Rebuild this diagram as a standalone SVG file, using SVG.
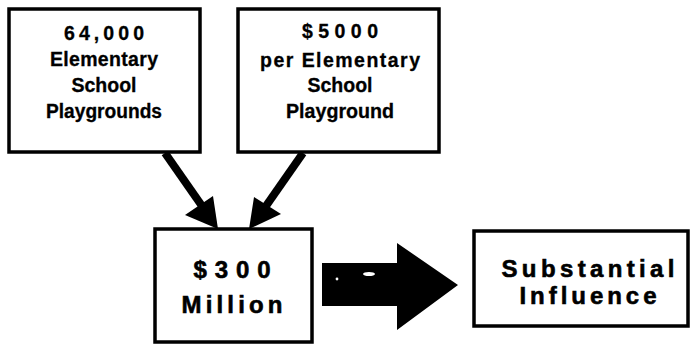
<svg xmlns="http://www.w3.org/2000/svg" width="695" height="347" viewBox="0 0 695 347">
  <style>
    .box { fill: #ffffff; stroke: #000000; stroke-width: 3.5; }
    .lbl { font-family: "Liberation Sans", Arial, Helvetica, sans-serif; font-weight: bold; fill: #000000; text-anchor: middle; stroke: #000000; }
    .sm { font-size: 19.5px; stroke-width: 0.3; }
    .lg { font-size: 24px; stroke-width: 0.6; }
    .link { stroke: #000000; stroke-width: 8; fill: none; }
    .head { fill: #000000; }
  </style>
  <rect width="695" height="347" fill="#ffffff"/>

  <g id="connectors">
    <!-- playground count into total -->
    <line class="link" x1="165" y1="153" x2="202" y2="206"/>
    <polygon class="head" points="185,215 213,196 218,229"/>
    <!-- cost per playground into total -->
    <line class="link" x1="303" y1="153" x2="266" y2="206"/>
    <polygon class="head" points="254,197 281,214 249,229"/>
    <!-- block arrow from total to influence -->
    <polygon class="head" points="322,263 397,263 397,243 458,285 397,330 397,306 322,306"/>
    <circle cx="337" cy="279" r="1.4" fill="#ffffff"/>
    <ellipse cx="369" cy="274" rx="6" ry="2" fill="#ffffff"/>
  </g>

  <g id="node-count">
    <rect class="box" x="9" y="9" width="191" height="143"/>
    <text class="lbl sm" x="104" y="40" textLength="80" lengthAdjust="spacing">64,000</text>
    <text class="lbl sm" x="104" y="66" textLength="108" lengthAdjust="spacing">Elementary</text>
    <text class="lbl sm" x="104" y="92">School</text>
    <text class="lbl sm" x="104" y="118" textLength="116" lengthAdjust="spacingAndGlyphs">Playgrounds</text>
  </g>

  <g id="node-cost">
    <rect class="box" x="238" y="9" width="201" height="143"/>
    <text class="lbl sm" x="340" y="38" textLength="76" lengthAdjust="spacing">$5000</text>
    <text class="lbl sm" x="340" y="67" textLength="160" lengthAdjust="spacing">per  Elementary</text>
    <text class="lbl sm" x="340" y="92">School</text>
    <text class="lbl sm" x="340" y="118" textLength="108" lengthAdjust="spacingAndGlyphs">Playground</text>
  </g>

  <g id="node-total">
    <rect class="box" x="155" y="229" width="157" height="113"/>
    <text class="lbl lg" x="232" y="278" textLength="77" lengthAdjust="spacing">$300</text>
    <text class="lbl lg" x="232" y="313" textLength="101" lengthAdjust="spacing">Million</text>
  </g>

  <g id="node-influence">
    <rect class="box" x="474" y="231" width="214" height="95"/>
    <text class="lbl lg" x="588" y="277" textLength="173" lengthAdjust="spacing">Substantial</text>
    <text class="lbl lg" x="588" y="304" textLength="137" lengthAdjust="spacing">Influence</text>
  </g>
</svg>
